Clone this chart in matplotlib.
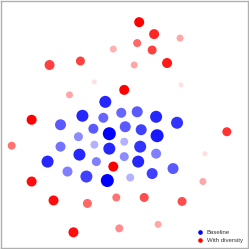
import matplotlib.pyplot as plt
from matplotlib.lines import Line2D

# positions, centred on the middle of the panel
baseline_x = [-19, -42, -21, -3, 13, 32, 53, -64, -31, -15, 1, 17, 33, -46, -30,
              -15, 0, 16, -64, -45, -28, 0, 14, 32, -77, -57, -38, -17, 6, 28, 49]
baseline_y = [23, 9, 7, 12, 13, 8, 2, 0, -4, -9, -2, -5, -11, -12, -20,
              -24, -17, -22, -22, -30, -37, -32, -37, -29, -37, -47, -52, -56, -53, -49, -44]
baseline_alpha = [0.85, 0.85, 0.6, 0.6, 0.65, 0.85, 0.8, 0.65, 0.65, 1.0, 0.65, 0.75, 0.9, 0.45, 0.3,
                  0.85, 0.3, 0.8, 0.55, 0.85, 0.5, 0.45, 0.85, 0.5, 0.85, 0.5, 0.75, 1.0, 0.3, 0.75, 0.65]
baseline_size = [12, 12, 10, 10, 11, 12, 12, 11, 10, 13, 11, 11, 13, 9, 8,
                 12, 8, 12, 10, 12, 9, 9, 12, 10, 12, 10, 12, 13, 8, 11, 11]

diversity_x = [15, 30, 13, 28, 56, 10, 43, 57, 0, -75, -44, -11, -30, -55, -93,
               -113, -93, -71, -37, -8, -51, -5, -11, 103, 81, 79, 20, 58, 34]
diversity_y = [103, 91, 82, 75, 87, 60, 62, 40, 35, 60, 64, 76, 43, 30, 5,
               -21, -57, -76, -79, -73, -108, -104, -42, -7, -29, -57, -73, -77, -100]
diversity_alpha = [1.0, 0.85, 0.6, 0.75, 0.35, 0.35, 0.9, 0.12, 1.0, 0.75, 0.75, 0.3, 0.12, 0.35, 1.0,
                   0.55, 0.95, 0.95, 0.6, 0.55, 0.95, 0.45, 1.0, 0.8, 0.12, 0.35, 0.7, 0.7, 0.35]
diversity_size = [10, 10, 8, 9, 7, 7, 10, 5, 10, 10, 9, 7, 5, 7, 10,
                  8, 10, 10, 9, 8, 10, 8, 10, 9, 5, 7, 9, 9, 7]

DPI = 100


def to_area(diameters):
    # pixel diameter -> scatter area in points^2
    return [(d * 72 / DPI) ** 2 for d in diameters]


def rgba(color, alphas):
    return [color + (a,) for a in alphas]


fig = plt.figure(figsize=(2.49, 2.49), dpi=DPI)
ax = fig.add_axes([0.003, 0.003, 0.992, 0.992])

ax.scatter(baseline_x, baseline_y, s=to_area(baseline_size),
           c=rgba((0.0, 0.0, 1.0), baseline_alpha), edgecolors="none")
ax.scatter(diversity_x, diversity_y, s=to_area(diversity_size),
           c=rgba((1.0, 0.0, 0.0), diversity_alpha), edgecolors="none")

ax.set_xlim(-124, 124)
ax.set_ylim(-124, 124)
ax.set_xticks([])
ax.set_yticks([])
for spine in ax.spines.values():
    spine.set_color("#b0b0b0")
    spine.set_linewidth(1.0)

handles = [
    Line2D([], [], marker="o", linestyle="none", color="blue", markersize=2.3, label="Baseline"),
    Line2D([], [], marker="o", linestyle="none", color="red", markersize=2.3, label="With diversity"),
]
leg = ax.legend(handles=handles, loc="lower right", frameon=False,
                prop={"family": "Liberation Sans", "size": 4.3},
                handletextpad=0.6, handlelength=1.0, borderaxespad=0.4, labelspacing=0.55)
for text in leg.get_texts():
    text.set_color("#333333")

fig.savefig("out.png", dpi=DPI)
